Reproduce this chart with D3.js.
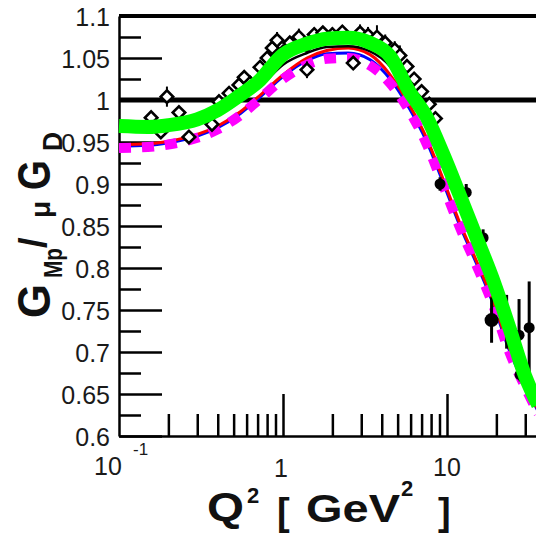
<!DOCTYPE html>
<html>
<head>
<meta charset="utf-8">
<script src="https://cdn.jsdelivr.net/npm/d3@7"></script>
<style>
  body { margin: 0; background: #fff; }
  svg { display: block; }
</style>
</head>
<body>
<svg id="chart" width="536" height="535"></svg>
<script>
// model curves on a shared Q^2 grid
const qGrid   = [0.1, 0.15, 0.2, 0.3, 0.4, 0.55, 0.7, 1.0, 1.4, 1.85, 2.5, 3.4, 4.5, 5.9, 7.5, 9.5, 12, 15, 19, 24, 30, 36];
const green   = [0.969, 0.968, 0.970, 0.977, 0.988, 1.006, 1.021, 1.054, 1.067, 1.073, 1.074, 1.068, 1.052, 1.010, 0.980, 0.935, 0.886, 0.838, 0.787, 0.729, 0.671, 0.637];
const magenta = [0.943, 0.944, 0.947, 0.955, 0.965, 0.982, 0.999, 1.025, 1.042, 1.049, 1.050, 1.041, 1.020, 0.987, 0.948, 0.898, 0.848, 0.805, 0.757, 0.700, 0.658, 0.627];
const red     = [0.947, 0.948, 0.951, 0.959, 0.969, 0.986, 1.003, 1.030, 1.050, 1.059, 1.062, 1.054, 1.030, 0.994, 0.955, 0.905, 0.853, 0.810, 0.762, 0.705, 0.662, 0.631];
const blue    = [0.945, 0.946, 0.949, 0.957, 0.967, 0.984, 1.001, 1.028, 1.047, 1.055, 1.056, 1.048, 1.025, 0.990, 0.951, 0.901, 0.850, 0.807, 0.759, 0.702, 0.660, 0.629];

const qBlack  = [0.8, 1.0, 1.4, 1.85, 2.5, 3.4, 4.5, 5.9, 7.5];
const black   = [1.024, 1.042, 1.056, 1.063, 1.064, 1.058, 1.040, 1.002, 0.970];

// open diamonds (low Q^2 data)
const qOpen = [0.157, 0.180, 0.196, 0.232, 0.267, 0.369, 0.407, 0.469, 0.539, 0.58, 0.63, 0.724, 0.80, 0.86, 0.92, 1.0, 1.10, 1.25, 1.40, 1.40, 1.55, 1.75, 2.0, 2.3, 2.68, 2.95, 3.3, 3.74, 4.2, 4.8, 5.16, 5.7, 6.3, 7.0, 7.8, 8.5];
const vOpen = [0.979, 0.962, 1.004, 0.985, 0.956, 0.971, 0.998, 1.008, 1.018, 1.027, 1.020, 1.039, 1.050, 1.062, 1.071, 1.057, 1.068, 1.075, 1.065, 1.036, 1.078, 1.080, 1.078, 1.081, 1.044, 1.080, 1.077, 1.075, 1.068, 1.060, 1.053, 1.040, 1.025, 1.010, 0.995, 0.978];
const eOpen = [0.006, 0.006, 0.012, 0.006, 0.006, 0.006, 0.008, 0.006, 0.008, 0.008, 0.008, 0.008, 0.008, 0.008, 0.010, 0.008, 0.008, 0.010, 0.010, 0.010, 0.008, 0.008, 0.008, 0.008, 0.008, 0.010, 0.010, 0.014, 0.010, 0.010, 0.012, 0.008, 0.008, 0.008, 0.008, 0.008];

// filled circles (high Q^2 data)
const qFill = [9.07, 13.1, 16.6, 18.7, 23.1, 27.5, 27.9, 31.7];
const vFill = [0.900, 0.890, 0.836, 0.738, 0.736, 0.720, 0.673, 0.729];
const eFill = [0.008, 0.010, 0.010, 0.027, 0.032, 0.043, 0.008, 0.055];

const yMajor = [0.6, 0.65, 0.7, 0.75, 0.8, 0.85, 0.9, 0.95, 1.0, 1.05, 1.1];
const yMinor = [0.625, 0.675, 0.725, 0.775, 0.825, 0.875, 0.925, 0.975, 1.025, 1.075];
const xMajor = [1, 10];
const xMinor = [0.2, 0.3, 0.4, 0.5, 0.6, 0.7, 0.8, 0.9, 2, 3, 4, 5, 6, 7, 8, 9, 20, 30];

const svg = d3.select('#chart');
const x = d3.scaleLog().domain([0.1, 35]).range([119, 119 + 164 * Math.log10(350)]);
const y = d3.scaleLinear().domain([0.6, 1.1]).range([436, 16]);

// reference lines
svg.append('line').attr('x1', 119).attr('x2', 536).attr('y1', y(1.1)).attr('y2', y(1.1))
  .attr('stroke', '#000').attr('stroke-width', 4);
svg.append('line').attr('x1', 119).attr('x2', 536).attr('y1', y(1.0)).attr('y2', y(1.0))
  .attr('stroke', '#000').attr('stroke-width', 5);

function styleAxis(g, w) {
  g.selectAll('.domain').attr('stroke', '#000').attr('stroke-width', 2.5);
  g.selectAll('.tick line').attr('stroke', '#000').attr('stroke-width', w);
}

// y axis
const gy = svg.append('g').attr('transform', 'translate(119,0)')
  .call(d3.axisLeft(y).tickValues(yMajor).tickSizeInner(-43).tickSizeOuter(0)
    .tickPadding(9).tickFormat(d3.format('~g')));
styleAxis(gy, 2.5);
gy.selectAll('text').attr('font-family', 'Liberation Sans, Arial, sans-serif')
  .attr('font-size', 25).attr('fill', '#1a1a1a').attr('dy', '0.36em');
const gy2 = svg.append('g').attr('transform', 'translate(119,0)')
  .call(d3.axisLeft(y).tickValues(yMinor).tickSizeInner(-22).tickSizeOuter(0).tickFormat(''));
gy2.select('.domain').remove();
styleAxis(gy2, 2.5);

// x axis
const gx = svg.append('g').attr('transform', 'translate(0,436)')
  .call(d3.axisBottom(x).tickValues(xMajor).tickSizeInner(-42).tickSizeOuter(0).tickFormat(''));
styleAxis(gx, 2.5);
const gx2 = svg.append('g').attr('transform', 'translate(0,436)')
  .call(d3.axisBottom(x).tickValues(xMinor).tickSizeInner(-22).tickSizeOuter(0).tickFormat(''));
gx2.select('.domain').remove();
styleAxis(gx2, 2.5);

const lab = { 'font-family': 'Liberation Sans, Arial, sans-serif', 'fill': '#1a1a1a' };
function txt(s, px, py, size, anchor) {
  const t = svg.append('text').attr('x', px).attr('y', py).attr('font-size', size)
    .attr('text-anchor', anchor || 'middle').text(s);
  Object.entries(lab).forEach(([k, v]) => t.attr(k, v));
  return t;
}
txt('10', x(0.1) - 11, 475, 25);
txt('-1', x(0.1) + 14, 455, 17, 'start');
txt('1', x(1) - 2, 477, 25);
txt('10', x(10), 476, 25);

// curves
const line = d3.line().x(d => x(d[0])).y(d => y(d[1])).curve(d3.curveMonotoneX);
const plot = svg.append('g');
plot.append('path').datum(d3.zip(qGrid, blue)).attr('d', line)
  .attr('fill', 'none').attr('stroke', '#0000ff').attr('stroke-width', 3);
plot.append('path').datum(d3.zip(qGrid, red)).attr('d', line)
  .attr('fill', 'none').attr('stroke', '#ff0000').attr('stroke-width', 3);
plot.append('path').datum(d3.zip(qGrid, magenta)).attr('d', line)
  .attr('fill', 'none').attr('stroke', '#ff00ff').attr('stroke-width', 10)
  .attr('stroke-dasharray', '12,11');
plot.append('path').datum(d3.zip(qBlack, black)).attr('d', line)
  .attr('fill', 'none').attr('stroke', '#000').attr('stroke-width', 2.5);

// data points
const open = d3.zip(qOpen, vOpen, eOpen);
plot.selectAll('.eo').data(open).enter().append('line')
  .attr('x1', d => x(d[0])).attr('x2', d => x(d[0]))
  .attr('y1', d => y(d[1] - d[2])).attr('y2', d => y(d[1] + d[2]))
  .attr('stroke', '#000').attr('stroke-width', 2);
plot.selectAll('.po').data(open).enter().append('path')
  .attr('d', d3.symbol(d3.symbolSquare, 78))
  .attr('transform', d => `translate(${x(d[0])},${y(d[1])}) rotate(45)`)
  .attr('fill', '#fff').attr('stroke', '#000').attr('stroke-width', 2.6);

const fill = d3.zip(qFill, vFill, eFill);
plot.selectAll('.ef').data(fill).enter().append('line')
  .attr('x1', d => x(d[0])).attr('x2', d => x(d[0]))
  .attr('y1', d => y(d[1] - d[2])).attr('y2', d => y(d[1] + d[2]))
  .attr('stroke', '#000').attr('stroke-width', 3);
plot.selectAll('.pf').data(fill).enter().append('circle')
  .attr('cx', d => x(d[0])).attr('cy', d => y(d[1]))
  .attr('r', (d, i) => i === 3 ? 7 : 5.5).attr('fill', '#000');

plot.append('path').datum(d3.zip(qGrid, green)).attr('d', line)
  .attr('fill', 'none').attr('stroke', '#00ff00').attr('stroke-width', 14);

// axis titles
const bold = (t) => t.attr('font-family', 'Liberation Sans, Arial, sans-serif')
  .attr('font-weight', 'bold').attr('fill', '#111');
bold(svg.append('text').attr('x', 207).attr('y', 521).attr('font-size', 40)
  .attr('textLength', 37).attr('lengthAdjust', 'spacingAndGlyphs').text('Q'));
bold(svg.append('text').attr('x', 247).attr('y', 503).attr('font-size', 22).text('2'));
bold(svg.append('text').attr('x', 277).attr('y', 525).attr('font-size', 38)
  .attr('font-weight', 'normal').text('['));
bold(svg.append('text').attr('x', 306).attr('y', 522).attr('font-size', 38)
  .attr('textLength', 94).attr('lengthAdjust', 'spacingAndGlyphs').text('GeV'));
bold(svg.append('text').attr('x', 401).attr('y', 496).attr('font-size', 22).text('2'));
bold(svg.append('text').attr('x', 438).attr('y', 525).attr('font-size', 38)
  .attr('font-weight', 'normal').text(']'));

const yt = svg.append('g').attr('transform', 'rotate(-90)');
const piece = (s, bottom, base, size, len) => {
  const t = bold(yt.append('text').attr('x', -bottom).attr('y', base).attr('font-size', size).text(s));
  if (len) t.attr('textLength', len).attr('lengthAdjust', 'spacingAndGlyphs');
  return t;
};
piece('G', 318, 50, 46, 34);
piece('Mp', 278, 62, 26, 30);
piece('/', 248, 46, 38, 0);
piece('\u03bc', 218, 50, 28, 0);
piece('G', 190, 50, 46, 30);
piece('D', 151, 62, 28, 19);
</script>
</body>
</html>
